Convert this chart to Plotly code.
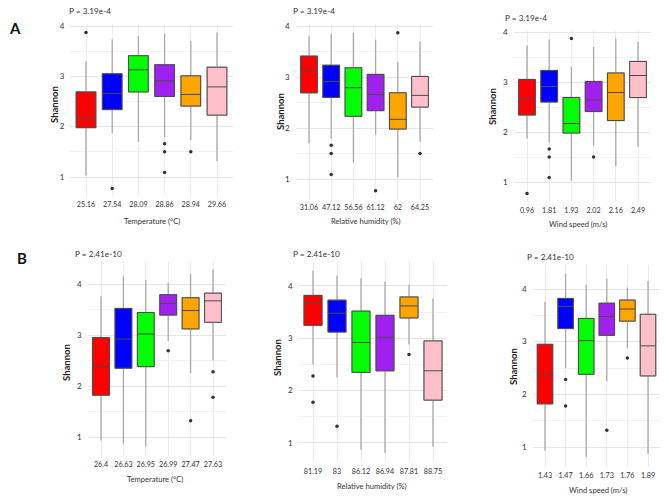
import plotly.graph_objects as go

# Shannon index summaries for the six sampling groups.
# Season A
a_q1 = [1.98, 2.34, 2.69, 2.60, 2.41, 2.23]
a_median = [2.17, 2.66, 3.13, 2.91, 2.64, 2.79]
a_q3 = [2.69, 3.05, 3.41, 3.23, 3.01, 3.18]
a_low = [1.03, 1.87, 1.70, 1.79, 1.73, 1.32]
a_high = [3.30, 3.73, 3.80, 3.85, 3.70, 3.87]
a_outliers = [[3.87], [0.77], [], [1.66, 1.50, 1.09], [1.50], []]

# Season B
b_q1 = [1.82, 2.35, 2.38, 3.39, 3.12, 3.25]
b_median = [2.38, 2.92, 3.02, 3.62, 3.48, 3.67]
b_q3 = [2.95, 3.52, 3.44, 3.79, 3.73, 3.82]
b_low = [0.93, 0.87, 0.81, 2.88, 2.25, 2.50]
b_high = [3.76, 4.15, 4.08, 4.03, 4.20, 4.29]
b_outliers = [[], [], [], [2.69], [1.32], [2.28, 1.78]]

# Group order and tick labels for each panel
a_temp_order = [0, 1, 2, 3, 4, 5]
a_temp_labels = ['25.16', '27.54', '28.09', '28.86', '28.94', '29.66']
a_hum_order = [2, 3, 5, 1, 0, 4]
a_hum_labels = ['31.06', '47.12', '56.56', '61.12', '62', '64.25']
a_wind_order = [1, 3, 0, 4, 5, 2]
a_wind_labels = ['0.96', '1.81', '1.93', '2.02', '2.16', '2.49']

b_temp_order = [0, 1, 2, 3, 4, 5]
b_temp_labels = ['26.4', '26.63', '26.95', '26.99', '27.47', '27.63']
b_hum_order = [5, 4, 1, 2, 3, 0]
b_hum_labels = ['81.19', '83', '86.12', '86.94', '87.81', '88.75']
b_wind_order = [0, 5, 2, 4, 3, 1]
b_wind_labels = ['1.43', '1.47', '1.66', '1.73', '1.76', '1.89']

p_a = 'P = 3.19e-4'
p_b = 'P = 2.41e-10'

box_colors = ['#FF0000', '#0000FF', '#00FF00', '#A020F0', '#FFA500', '#FFC0CB']

W, H = 669, 498
FONT = 'Lato'
TXT = '#333333'

season_a = dict(q1=a_q1, median=a_median, q3=a_q3, low=a_low, high=a_high, out=a_outliers)
season_b = dict(q1=b_q1, median=b_median, q3=b_q3, low=b_low, high=b_high, out=b_outliers)

# Panel geometry in pixels: first category x, category step, y of tick 4, y of tick 1.
panels = [
    dict(s=season_a, order=a_temp_order, labels=a_temp_labels, title='Temperature (°C)', p=p_a,
         cx0=86, step=26.2, y4=26, y1=177, yr=[0.63, 4.03],
         px=(67, 11), sh=(55, 105), tt=(152, 221)),
    dict(s=season_a, order=a_hum_order, labels=a_hum_labels, title='Relative humidity (%)', p=p_a,
         cx0=309, step=22.2, y4=26, y1=179, yr=[0.61, 4.03],
         px=(291, 11), sh=(280, 112), tt=(366, 221)),
    dict(s=season_a, order=a_wind_order, labels=a_wind_labels, title='Wind speed (m/s)', p=p_a,
         cx0=527, step=22.2, y4=32, y1=182, yr=[0.61, 4.03],
         px=(503, 18), sh=(492, 107), tt=(578, 224)),
    dict(s=season_b, order=b_temp_order, labels=b_temp_labels, title='Temperature (°C)', p=p_b,
         cx0=101, step=22.4, y4=284, y1=437, yr=[0.63, 4.46],
         px=(73, 254), sh=(66, 363), tt=(155, 479)),
    dict(s=season_b, order=b_hum_order, labels=b_hum_labels, title='Relative humidity (%)', p=p_b,
         cx0=313, step=24.0, y4=286, y1=443, yr=[0.63, 4.46],
         px=(291, 254), sh=(277, 358), tt=(372, 486)),
    dict(s=season_b, order=b_wind_order, labels=b_wind_labels, title='Wind speed (m/s)', p=p_b,
         cx0=545, step=20.6, y4=289, y1=447, yr=[0.63, 4.46],
         px=(525, 257), sh=(513, 367), tt=(598, 490)),
]

fig = go.Figure()
layout = dict(
    width=W, height=H,
    plot_bgcolor='white', paper_bgcolor='white',
    margin=dict(t=0, r=0, b=0, l=0, pad=0, autoexpand=False),
    showlegend=False,
    boxmode='overlay',
    font=dict(family=FONT, size=8, color=TXT),
    annotations=[],
)

for i, pn in enumerate(panels):
    n = '' if i == 0 else str(i + 1)
    xa, ya = 'x' + n, 'y' + n
    s = pn['s']

    # Pixel -> paper domains
    u = (pn['y1'] - pn['y4']) / 3.0
    top = pn['y4'] - (pn['yr'][1] - 4) * u
    bot = pn['y1'] + (1 - pn['yr'][0]) * u
    left = pn['cx0'] - 0.6 * pn['step']
    right = pn['cx0'] + 5.6 * pn['step']

    layout['xaxis' + n] = dict(
        domain=[left / W, right / W], anchor=ya, type='category',
        categoryorder='array', categoryarray=pn['labels'],
        range=[-0.6, 5.6], fixedrange=True, automargin=False,
        showgrid=True, gridcolor='#ececec', gridwidth=1,
        showline=False, zeroline=False, ticks='', tickangle=0,
        ticklabelstandoff=3,
        tickfont=dict(family=FONT, size=7.2, color=TXT),
    )
    layout['yaxis' + n] = dict(
        domain=[1 - bot / H, 1 - top / H], anchor=xa,
        range=pn['yr'], fixedrange=True, automargin=False,
        tickvals=[1, 2, 3, 4], ticks='',
        showgrid=True, gridcolor='#e6e6e6', gridwidth=1,
        minor=dict(tickvals=[0.5, 1.5, 2.5, 3.5, 4.5], showgrid=True, gridcolor='#f2f2f2'),
        showline=False, zeroline=False, ticklabelstandoff=5,
        tickfont=dict(family=FONT, size=8, color=TXT),
    )

    for k, g in enumerate(pn['order']):
        lab = pn['labels'][k]
        # Whiskers (light grey) underneath
        fig.add_trace(go.Box(
            x=[lab], q1=[s['q1'][g]], median=[s['median'][g]], q3=[s['q3'][g]],
            lowerfence=[s['low'][g]], upperfence=[s['high'][g]],
            width=0.75, whiskerwidth=0, fillcolor=box_colors[k],
            line=dict(color='#a8a8a8', width=1.3),
            xaxis=xa, yaxis=ya, hoverinfo='skip',
        ))
        # Box body with darker outline and median
        fig.add_trace(go.Box(
            x=[lab], q1=[s['q1'][g]], median=[s['median'][g]], q3=[s['q3'][g]],
            lowerfence=[s['q1'][g]], upperfence=[s['q3'][g]],
            width=0.75, whiskerwidth=0, fillcolor=box_colors[k],
            line=dict(color='#4a4a4a', width=1),
            xaxis=xa, yaxis=ya,
        ))
        if s['out'][g]:
            fig.add_trace(go.Scatter(
                x=[lab] * len(s['out'][g]), y=s['out'][g], mode='markers',
                marker=dict(color='#333333', size=3.5),
                xaxis=xa, yaxis=ya, hoverinfo='skip',
            ))

    ann = layout['annotations']
    ann.append(dict(x=pn['px'][0] / W, y=1 - pn['px'][1] / H, xref='paper', yref='paper',
                    text=pn['p'], showarrow=False, xanchor='left', yanchor='middle',
                    font=dict(family=FONT, size=8.2, color=TXT)))
    ann.append(dict(x=pn['sh'][0] / W, y=1 - pn['sh'][1] / H, xref='paper', yref='paper',
                    text='<b>Shannon</b>', showarrow=False, textangle=-90,
                    xanchor='center', yanchor='middle',
                    font=dict(family=FONT, size=9.5, color='#222222')))
    ann.append(dict(x=pn['tt'][0] / W, y=1 - pn['tt'][1] / H, xref='paper', yref='paper',
                    text=pn['title'], showarrow=False, xanchor='center', yanchor='middle',
                    font=dict(family=FONT, size=7.6, color=TXT)))

# Row labels
layout['annotations'].append(dict(x=15 / W, y=1 - 28 / H, xref='paper', yref='paper', text='<b>A</b>',
                                  showarrow=False, xanchor='center', yanchor='middle',
                                  font=dict(family=FONT, size=15, color='#111111')))
layout['annotations'].append(dict(x=22 / W, y=1 - 258 / H, xref='paper', yref='paper', text='<b>B</b>',
                                  showarrow=False, xanchor='center', yanchor='middle',
                                  font=dict(family=FONT, size=15, color='#111111')))

fig.update_layout(**layout)

# Remove the default page margin so the figure sits at the window's top-left corner.
fig.write_html('out.html', config=dict(displayModeBar=False),
               post_script='document.body.style.margin = "0";')
